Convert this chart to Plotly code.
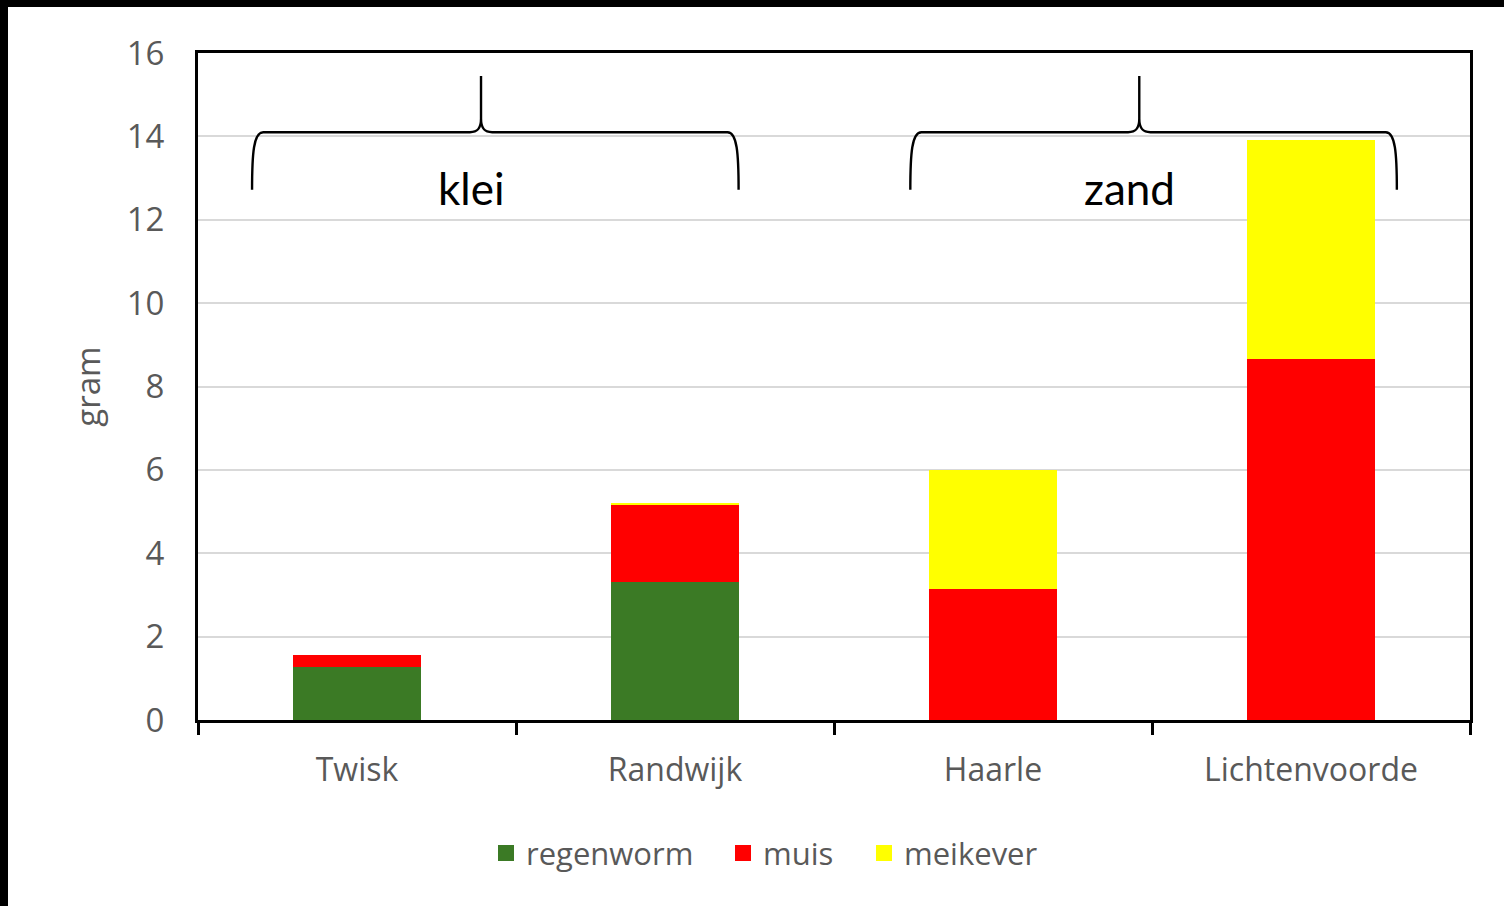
import plotly.graph_objects as go

# -- Data ---------------------------------------------------------------------
locaties = ["Twisk", "Randwijk", "Haarle", "Lichtenvoorde"]
regenworm = [1.26, 3.31, 0.0, 0.0]
muis = [0.30, 1.85, 3.14, 8.66]
meikever = [0.0, 0.03, 2.86, 5.25]

groepen = ["klei", "zand"]
groep_links = [-0.33, 1.74]     # brace ends, category index
groep_rechts = [1.20, 3.27]
groep_punt = [0.39, 2.46]       # brace tip
groep_tekst_x = [0.36, 2.43]

Y_MAX = 16
GREY = "#595959"
KLEUREN = {"regenworm": "#3B7A25", "muis": "#FF0000", "meikever": "#FFFF00"}

W, H, L, R, T, B = 1504, 906, 198, 34, 53, 186
pw, ph = W - L - R, H - T - B

# legend entry text starts (pixels from figure left)
LEGEND_TEKST_X = {"regenworm": 528, "muis": 765, "meikever": 906}

# -- Helpers ------------------------------------------------------------------
def px(x):
    return (x + 0.5) / len(locaties)


def py(y):
    return y / Y_MAX


def brace_path(x0, x1, xm, y_bot=12.72, y_mid=14.1, y_top=15.45):
    dx = 0.035
    c = 0.32  # height of curl at tip, gram
    pts = [
        f"M {px(x0)},{py(y_bot)}",
        f"C {px(x0)},{py(y_mid - 0.5)} {px(x0 + 0.005)},{py(y_mid)} {px(x0 + dx)},{py(y_mid)}",
        f"L {px(xm - dx)},{py(y_mid)}",
        f"C {px(xm - 0.01)},{py(y_mid)} {px(xm)},{py(y_mid + 0.1)} {px(xm)},{py(y_mid + c)}",
        f"L {px(xm)},{py(y_top)}",
        f"M {px(xm)},{py(y_mid + c)}",
        f"C {px(xm)},{py(y_mid + 0.1)} {px(xm + 0.01)},{py(y_mid)} {px(xm + dx)},{py(y_mid)}",
        f"L {px(x1 - dx)},{py(y_mid)}",
        f"C {px(x1 - 0.005)},{py(y_mid)} {px(x1)},{py(y_mid - 0.5)} {px(x1)},{py(y_bot)}",
    ]
    return " ".join(pts)


# -- Figure -------------------------------------------------------------------
fig = go.Figure()
legend_ids = ["legend", "legend2", "legend3"]
for k, (naam, vals) in enumerate([("regenworm", regenworm), ("muis", muis),
                                  ("meikever", meikever)]):
    fig.add_trace(go.Bar(x=locaties, y=vals, name=naam, showlegend=False,
                         marker=dict(color=KLEUREN[naam], line=dict(width=0))))
    # legend proxy with a bigger square symbol, each in its own legend box
    fig.add_trace(go.Scatter(x=[None], y=[None], mode="markers", name=naam,
                             legend=legend_ids[k],
                             marker=dict(symbol="square", size=16, color=KLEUREN[naam],
                                         line=dict(width=0))))

legend_layout = {}
for k, naam in enumerate(["regenworm", "muis", "meikever"]):
    legend_layout[legend_ids[k]] = dict(
        orientation="h", xanchor="left", yanchor="middle",
        x=(LEGEND_TEKST_X[naam] - 42 - L) / pw, y=-0.2,
        font=dict(size=31, color=GREY), bgcolor="rgba(0,0,0,0)",
    )

shapes = []
for i in range(len(groepen)):
    shapes.append(dict(type="path", xref="paper", yref="paper",
                       path=brace_path(groep_links[i], groep_rechts[i], groep_punt[i]),
                       line=dict(color="black", width=2.4)))

# black frame strips at top and left of the picture
shapes.append(dict(type="rect", xref="paper", yref="paper", layer="above",
                   x0=-L / pw, x1=(8 - L) / pw, y0=-B / ph, y1=1 + T / ph,
                   fillcolor="black", line=dict(width=0)))
shapes.append(dict(type="rect", xref="paper", yref="paper", layer="above",
                   x0=-L / pw, x1=1 + R / pw, y0=1 + (T - 7) / ph, y1=1 + T / ph,
                   fillcolor="black", line=dict(width=0)))

annotations = [
    dict(text=g, x=px(groep_tekst_x[i]), y=py(12.75), xref="paper", yref="paper",
         showarrow=False, xanchor="center", yanchor="middle",
         font=dict(family="Lato", size=44, color="black"))
    for i, g in enumerate(groepen)
]

fig.update_layout(
    barmode="stack",
    bargap=0.6,
    width=W, height=H,
    margin=dict(l=L, r=R, t=T, b=B),
    paper_bgcolor="white",
    plot_bgcolor="white",
    font=dict(family="Open Sans", size=32, color=GREY),
    shapes=shapes,
    annotations=annotations,
    showlegend=True,
    **legend_layout,
)
fig.update_xaxes(
    tickson="boundaries", ticks="outside", ticklen=12, tickwidth=3, tickcolor="black",
    showline=True, linecolor="black", linewidth=3, mirror=True,
    ticklabelstandoff=20, showgrid=False, tickfont=dict(size=32),
)
fig.update_yaxes(
    range=[0, Y_MAX], dtick=2, showgrid=True, gridcolor="#D9D9D9", gridwidth=2,
    showline=True, linecolor="black", linewidth=3, mirror=True,
    ticks="", ticklabelstandoff=24, zeroline=False, tickfont=dict(size=33),
    title=dict(text="gram", standoff=17, font=dict(size=33, color=GREY)),
)

fig.write_html("out.html", config={"displayModeBar": False},
               post_script="document.body.style.margin = '0';")
